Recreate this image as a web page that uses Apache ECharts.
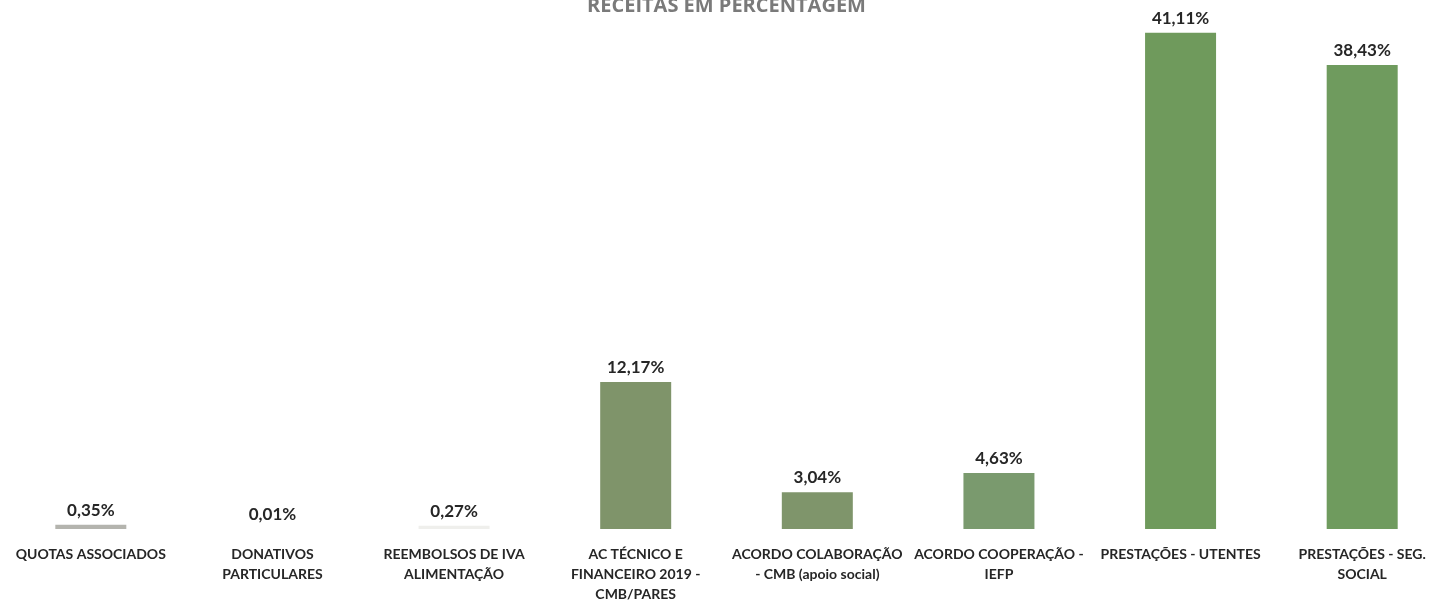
<!DOCTYPE html>
<html>
<head>
<meta charset="utf-8">
<script src="https://cdn.jsdelivr.net/npm/echarts@6/dist/echarts.min.js"></script>
<style>html,body{margin:0;padding:0;background:#fff;}#c{width:1453px;height:605px;}</style>
</head>
<body>
<div id="c"></div>
<script>
const titleText = "RECEITAS EM PERCENTAGEM";
const categories = [
  "QUOTAS ASSOCIADOS",
  "DONATIVOS\nPARTICULARES",
  "REEMBOLSOS DE IVA\nALIMENTAÇÃO",
  "AC TÉCNICO E\nFINANCEIRO 2019 -\nCMB/PARES",
  "ACORDO COLABORAÇÃO\n- CMB (apoio social)",
  "ACORDO COOPERAÇÃO -\nIEFP",
  "PRESTAÇÕES - UTENTES",
  "PRESTAÇÕES - SEG.\nSOCIAL"
];
const values = [0.35, 0.01, 0.27, 12.17, 3.04, 4.63, 41.11, 38.43];
const barColors = ["#b4b4ae", "#f2f2f0", "#efefec", "#7f946a", "#7f956b", "#7a9a6e", "#6f9a5c", "#6f9b5e"];

const chart = echarts.init(document.getElementById('c'));
chart.setOption({
  backgroundColor: '#ffffff',
  animation: false,
  title: {
    text: titleText,
    left: 'center',
    top: -9,
    textStyle: { fontFamily: 'Open Sans', fontWeight: 'bold', fontSize: 20, color: '#7a7a7a' }
  },
  grid: { left: -10, width: 1464, top: 22, bottom: 76, containLabel: false },
  xAxis: {
    type: 'category',
    data: categories,
    axisLine: { show: false },
    axisTick: { show: false },
    axisLabel: {
      interval: 0,
      margin: 15,
      fontFamily: '"Liberation Sans Narrow", Lato, sans-serif',
      fontWeight: 'bold',
      fontSize: 14,
      lineHeight: 20,
      color: '#262626'
    }
  },
  yAxis: { type: 'value', min: 0, max: 42, show: false, splitLine: { show: false } },
  series: [{
    type: 'bar',
    data: values.map((v, i) => ({ value: v, itemStyle: { color: barColors[i] } })),
    barWidth: 71,
    label: {
      show: true,
      position: 'top',
      distance: 6,
      fontFamily: 'Lato',
      fontWeight: 'bold',
      fontSize: 17,
      color: '#262626',
      formatter: p => p.value.toFixed(2).replace('.', ',') + '%'
    }
  }]
});
</script>
</body>
</html>
